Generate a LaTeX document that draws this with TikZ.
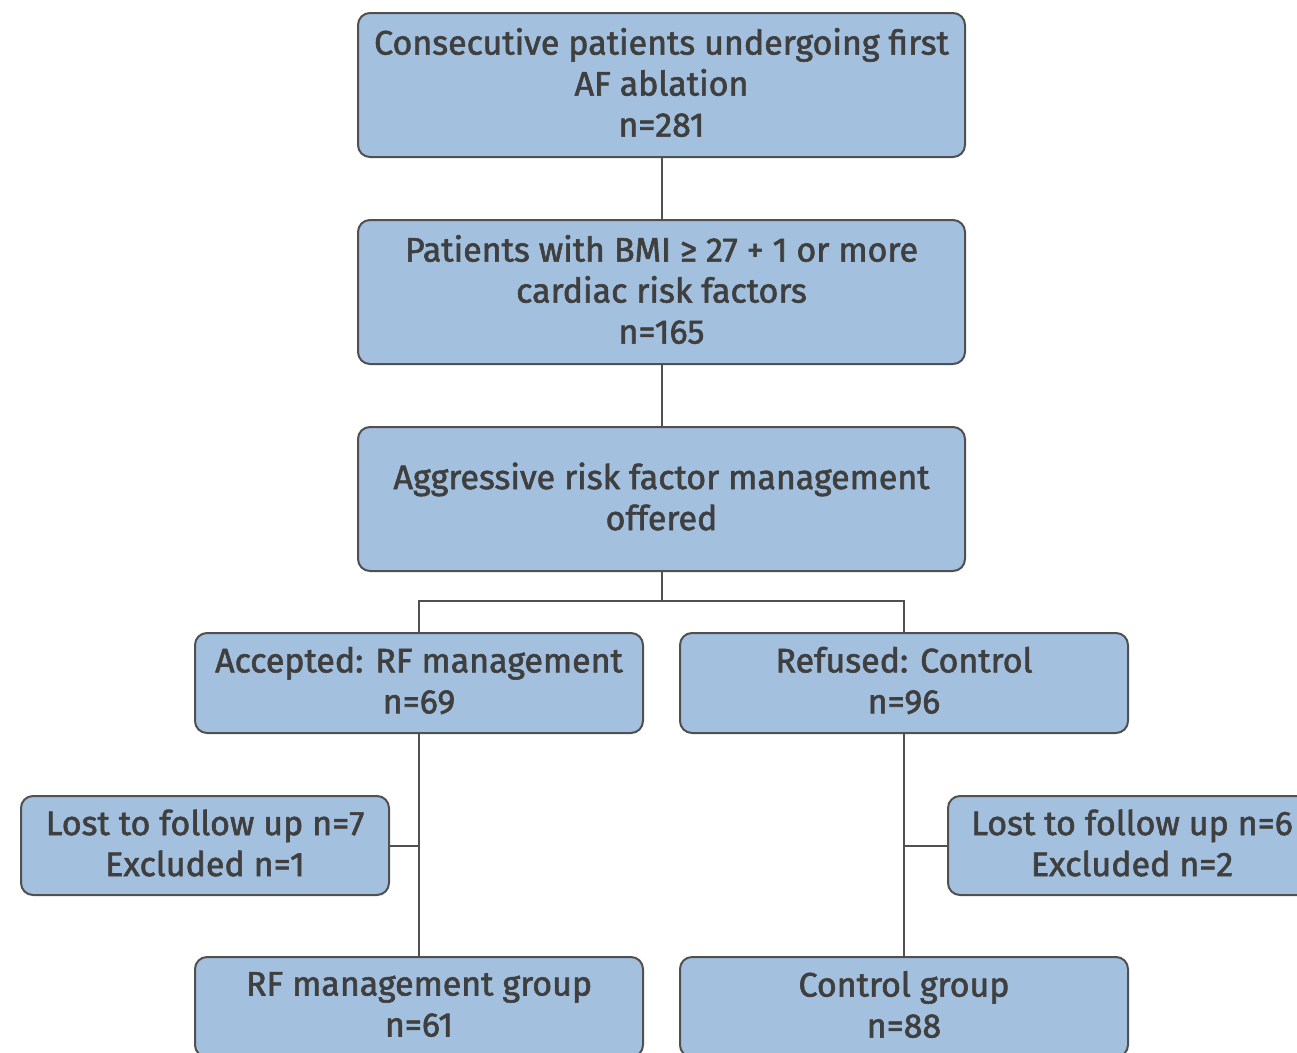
\documentclass[tikz,border=0pt]{standalone}
\usepackage{fontspec}
\setmainfont{Fira Sans}[FakeBold=1.8]
\definecolor{boxfill}{HTML}{A3C1DF}
\definecolor{boxline}{HTML}{505050}
\definecolor{txt}{HTML}{3F3F3F}
\begin{document}
\begin{tikzpicture}[x=1pt,y=-1pt,
  box/.style={draw=boxline, fill=boxfill, line width=2pt, rounded corners=12pt,
    align=center, inner sep=0pt, text=txt, font=\fontsize{34}{41}\selectfont},
  wide/.style={box, minimum width=607pt, minimum height=144pt},
  mid/.style={box, minimum width=448pt, minimum height=100pt},
  side/.style={box, minimum width=368pt, minimum height=99pt},
  lbl/.style={align=center, inner sep=0pt, text=txt, font=\fontsize{34}{41}\selectfont},
  conn/.style={draw=boxline, line width=2pt}]
\useasboundingbox (0,0) rectangle (1297,1052);
\clip (0,0) rectangle (1297,1052);
\node[wide] (b1) at (661.5,85) {};
\node[wide] (b2) at (661.5,292) {};
\node[wide] (b3) at (661.5,499) {};
\node[mid] (b4) at (419,683) {};
\node[mid] (b5) at (904,683) {};
\node[side] (b6) at (205,845.5) {};
\node[side] (b7) at (1132,845.5) {};
\node[mid] (b8) at (419,1007) {};
\node[mid] (b9) at (904,1007) {};
\node[lbl] (t1) at ([yshift=2.5pt]b1.center) {Consecutive patients undergoing first\\AF ablation\\n=281};
\node[lbl] (t2) at ([yshift=2.5pt]b2.center) {Patients with BMI ≥ 27 + 1 or more\\cardiac risk factors\\n=165};
\node[lbl] (t3) at ([yshift=2.5pt]b3.center) {Aggressive risk factor management\\offered};
\node[lbl] (t4) at ([yshift=2.5pt]b4.center) {Accepted: RF management\\n=69};
\node[lbl] (t5) at ([yshift=2.5pt]b5.center) {Refused: Control\\n=96};
\node[lbl] (t6) at ([yshift=2.5pt]b6.center) {Lost to follow up n=7\\Excluded n=1};
\node[lbl] (t7) at ([yshift=2.5pt]b7.center) {Lost to follow up n=6\\Excluded n=2};
\node[lbl] (t8) at ([yshift=2.5pt]b8.center) {RF management group\\n=61};
\node[lbl] (t9) at ([yshift=2.5pt]b9.center) {Control group\\n=88};
\draw[conn] (b1.south) -- (b2.north);
\draw[conn] (b2.south) -- (b3.north);
\draw[conn] (b3.south) -- ++(0,29) -| (b4.north);
\draw[conn] (b3.south) -- ++(0,29) -| (b5.north);
\draw[conn] (b4.south) -- (b8.north);
\draw[conn] (b5.south) -- (b9.north);
\draw[conn] (b6.east) -- (b6.east -| b4.south);
\draw[conn] (b7.west) -- (b7.west -| b5.south);
\end{tikzpicture}
\end{document}
